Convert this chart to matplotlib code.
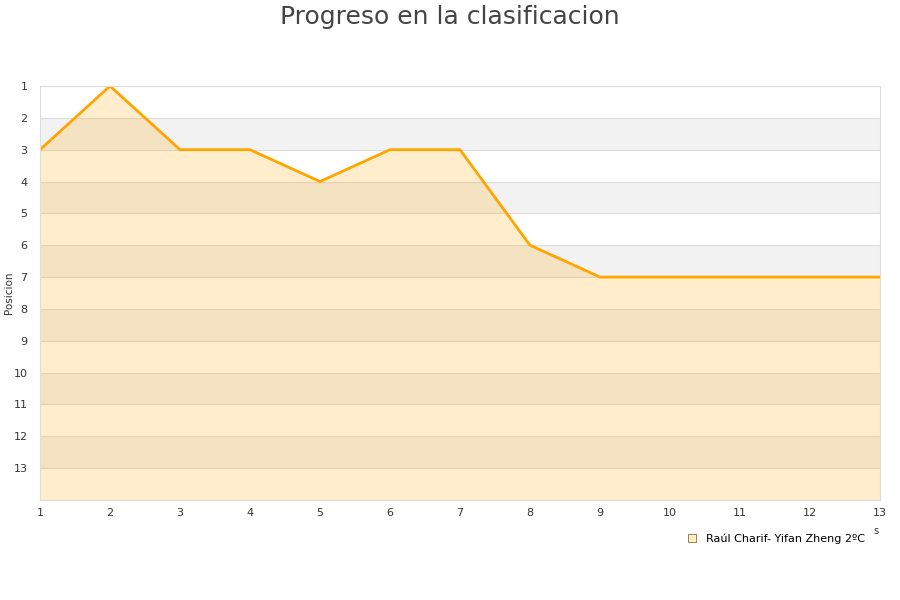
import matplotlib
matplotlib.use('Agg')
import matplotlib.pyplot as plt
from matplotlib.lines import Line2D

jornadas = [1, 2, 3, 4, 5, 6, 7, 8, 9, 10, 11, 12, 13]
posicion = [3, 1, 3, 3, 4, 3, 3, 6, 7, 7, 7, 7, 7]
y_ticks = list(range(1, 14))
equipo = 'Raúl Charif- Yifan Zheng 2ºC'

fig = plt.figure(figsize=(9, 6), dpi=100)
ax = fig.add_axes([40 / 900, 1 - 500 / 600, 840 / 900, 414 / 600])

# bandas alternas
for k in range(2, 14, 2):
    ax.axhspan(k, k + 1, color='#f2f2f2', zorder=0, lw=0)
for k in range(1, 15):
    ax.axhline(k, color='#dddddd', lw=0.8, zorder=0.5)

ax.fill_between(jornadas, posicion, 14, color='#ffa500', alpha=0.2, lw=0, zorder=1)
ax.plot(jornadas, posicion, color='#ffa500', lw=2.0, zorder=2)

ax.set_xlim(1, 13)
ax.set_ylim(14, 1)
ax.set_xticks(jornadas)
ax.set_yticks(y_ticks)
ax.tick_params(length=0, labelsize=8, colors='#333333', pad=6)
ax.tick_params(axis='y', pad=9)
for s in ax.spines.values():
    s.set_color('#dddddd')
    s.set_linewidth(0.8)

ax.set_ylabel('Posicion', fontsize=7.5, color='#333333')
ax.yaxis.set_label_coords(-26 / 840, 0.5)

fig.text(0.5, 1 - 17 / 600, 'Progreso en la clasificacion', ha='center', va='center',
         fontsize=18, color='#444444')
fig.text(876 / 900, 1 - 531 / 600, 's', fontsize=7, color='#333333', ha='center', va='center')

handle = Line2D([], [], marker='s', ls='none', markersize=6,
                markerfacecolor='#ffecc9', markeredgecolor='#8a6d3b', markeredgewidth=0.6)
fig.legend([handle], [equipo], loc='center', bbox_to_anchor=(773 / 900, 1 - 539 / 600),
           frameon=False, fontsize=8, handletextpad=0.3, borderaxespad=0)

fig.savefig('out.png', dpi=100)
